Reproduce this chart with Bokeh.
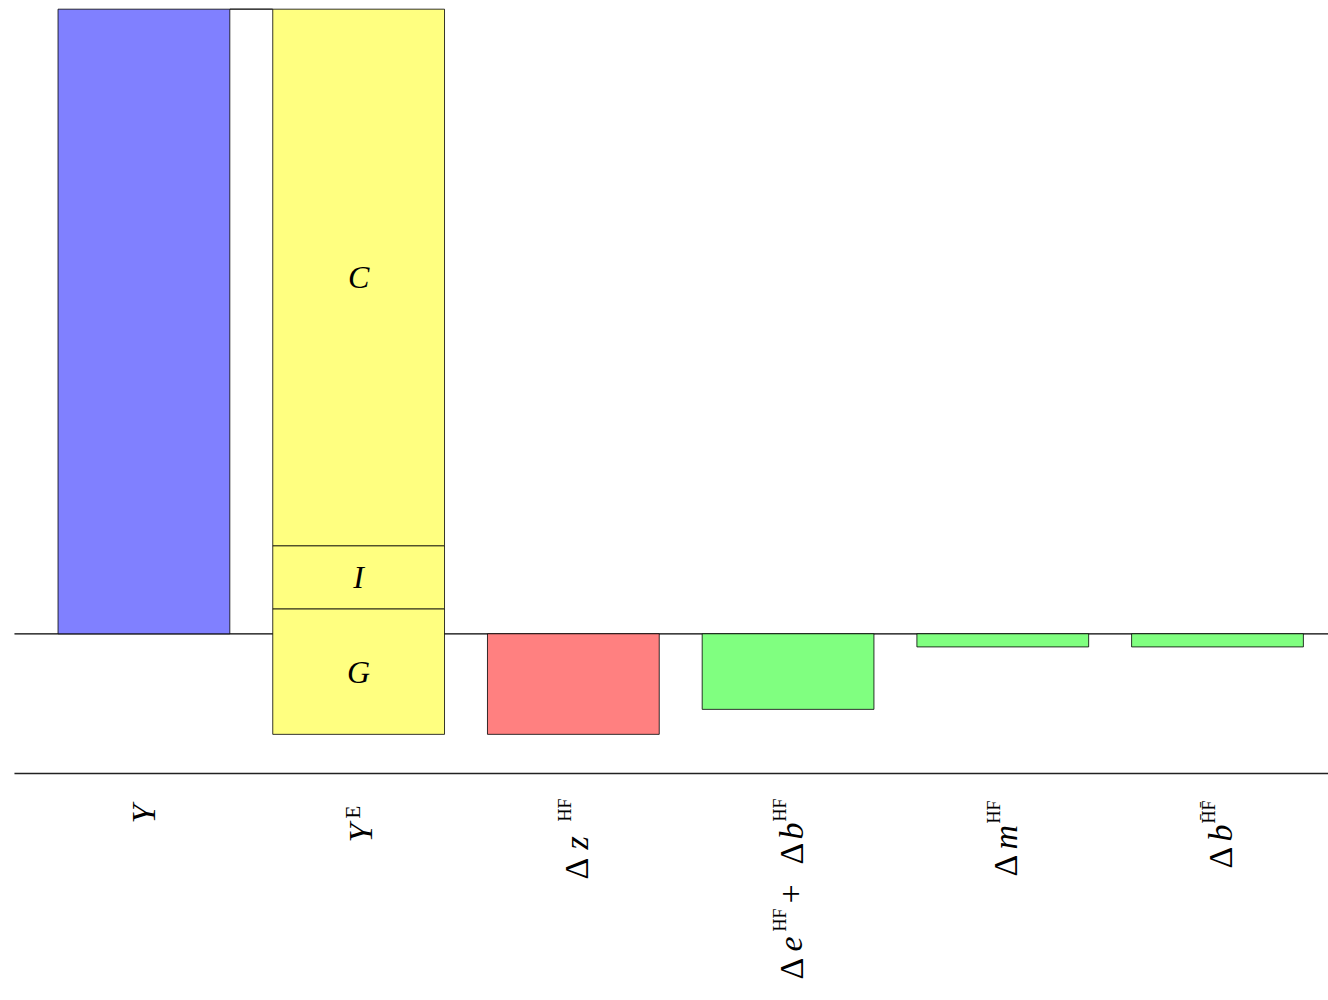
import math
from bokeh.plotting import figure
from bokeh.models import Range1d, Label
from bokeh.core.properties import value
from bokeh.embed import file_html
from bokeh.resources import INLINE

# ---------------- data ----------------
categories = ["Y", "YE", "dz", "de_db", "dm", "db_bar"]
y_total = 100.0                      # Y
ye_base = -16.1                      # bottom of the Y^E stack
ye_part_names = ["G", "I", "C"]
ye_parts = [20.1, 10.1, 85.9]        # G, I, C
delta_values = [-16.1, -12.1, -2.1, -2.1]   # Δz, Δe+Δb, Δm, Δb̄
delta_colors = ["#ff8080", "#80ff80", "#80ff80", "#80ff80"]

# tick labels, as (text piece, kind)
label_texts = [
    [("Y", "it")],
    [("Y", "it"), ("E", "sup")],
    [("Δ", "up"), ("z", "it"), ("HF", "sup")],
    [("Δ", "up"), ("e", "it"), ("HF", "sup"), ("+", "up"), ("Δ", "up"), ("b", "it"), ("HF", "sup")],
    [("Δ", "up"), ("m", "it"), ("HF", "sup")],
    [("Δ", "up"), ("b", "it"), ("H\u0304F\u0304", "sup")],
]

# ---------------- layout ----------------
W, H = 1328, 1000
label_starts = [
    [50],
    [69, 45],
    [106, 76, 48],
    [206, 178, 158, 130, 91, 66, 48],
    [103, 76, 50],
    [95, 68, 50],
]
label_baseline_shift = [11, 14, 15, 15, 15, 15]
sup_raise = [17, 12, 17, 17, 17, 17]
sup_size = [18, 21, 18, 18, 18, 18]
main_size = 34
render_bias = 0.35       # rotated text sits this many em right of the anchor
font = "Liberation Serif"
bar_w = 0.8

x_start, x_end = -0.668, 5.517
y_start, y_end = -58.71, 101.39
axis_y = -22.37          # the baseline (axis) under the bars
axis_left = -0.603       # where the horizontal lines begin
px_x = W / (x_end - x_start)
px_y = H / (y_end - y_start)

p = figure(width=W, height=H, output_backend="svg", toolbar_location=None,
           x_range=Range1d(x_start, x_end), y_range=Range1d(y_start, y_end),
           min_border=0)
p.outline_line_color = None
p.grid.visible = False
p.axis.visible = False

# zero line (behind bars) and axis line
p.segment(x0=[axis_left], x1=[x_end], y0=[0], y1=[0], line_color="black", line_width=1.2, level="underlay")
p.segment(x0=[axis_left], x1=[x_end], y0=[axis_y], y1=[axis_y], line_color="#222222", line_width=1.5)

# Y bar
p.vbar(x=[0], bottom=[0], top=[y_total], width=bar_w, fill_color="#8080ff", line_color="black", line_width=0.8)

# Y^E stack
bottoms, tops = [], []
acc = ye_base
for v in ye_parts:
    bottoms.append(acc)
    acc += v
    tops.append(acc)
p.vbar(x=[1] * len(ye_parts), bottom=bottoms, top=tops, width=bar_w,
       fill_color="#ffff80", line_color="black", line_width=0.8)
mids = [(b + t) / 2 for b, t in zip(bottoms, tops)]
p.text(x=[1] * len(ye_parts), y=mids, text=ye_part_names, text_font=value(font),
       text_font_style="italic", text_font_size="32px", text_align="center",
       text_baseline="middle", text_color="black", y_offset=0)

# connector between Y and Y^E tops
p.segment(x0=[0 + bar_w / 2], x1=[1 - bar_w / 2], y0=[y_total], y1=[y_total],
          line_color="black", line_width=1.2)

# delta bars
dx = list(range(2, 2 + len(delta_values)))
p.vbar(x=dx, bottom=delta_values, top=[0] * len(delta_values), width=bar_w,
       fill_color=delta_colors, line_color="black", line_width=0.8)

# composite category labels (rotated, reading upward)
for i, (pieces, starts) in enumerate(zip(label_texts, label_starts)):
    for (txt, kind), dist in zip(pieces, starts):
        is_sup = kind == "sup"
        size = sup_size[i] if is_sup else main_size
        shift = label_baseline_shift[i] - (sup_raise[i] if is_sup else 0) - render_bias * size
        p.add_layout(Label(
            x=i + shift / px_x, y=axis_y - dist / px_y,
            text=txt, angle=math.pi / 2,
            text_align="left", text_baseline="alphabetic",
            text_font=font, text_font_size=f"{size}px",
            text_font_style="italic" if kind == "it" else "normal",
            text_color="black"))

open("out.html", "w").write(file_html(p, INLINE))
